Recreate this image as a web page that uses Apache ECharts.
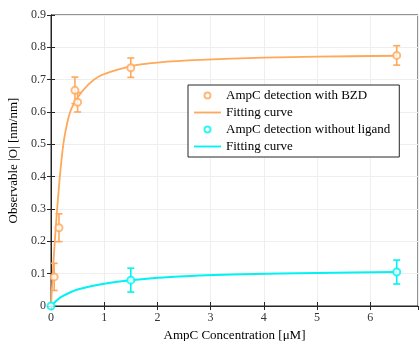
<!DOCTYPE html>
<html>
<head>
<meta charset="utf-8">
<script src="https://cdn.jsdelivr.net/npm/echarts@6/dist/echarts.min.js"></script>
<style>
  html, body { margin: 0; padding: 0; background: #fff; }
  #chart { width: 419px; height: 341px; }
</style>
</head>
<body>
<div id="chart"></div>
<script>
// measured points with error bars
const xBZD = [0.06, 0.15, 0.45, 0.5, 1.5, 6.5]
const yBZD = [0.09, 0.242, 0.667, 0.63, 0.737, 0.775]
const errBZD = [0.042, 0.043, 0.041, 0.03, 0.03, 0.03]

const xNoLig = [0, 1.5, 6.5]
const yNoLig = [0, 0.08, 0.105]
const errNoLig = [0, 0.037, 0.037]

// fitting curves
const fitBZDx = [0, 0.04, 0.08, 0.13, 0.19, 0.25, 0.36, 0.5, 0.7, 0.9, 1.24, 1.6, 2.0, 2.8, 4.0, 5.0, 6.5]
const fitBZDy = [0, 0.12, 0.22, 0.33, 0.44, 0.52, 0.6, 0.645, 0.685, 0.71, 0.73, 0.745, 0.753, 0.761, 0.768, 0.771, 0.774]
const fitNoLigx = [0, 0.1, 0.2, 0.5, 1.0, 1.5, 2.4, 3.6, 5.0, 6.5]
const fitNoLigy = [0, 0.016, 0.029, 0.051, 0.069, 0.08, 0.091, 0.098, 0.102, 0.105]

const legendNames = ['AmpC detection with BZD', 'Fitting curve', 'AmpC detection without ligand', 'Fitting curve ']

const orange = '#FFA85A'
const cyan = '#00F2F2'
const axisColor = '#262626'
const font = 'Liberation Serif'
const lineIcon = 'path://M0,0 L30,0 L30,2 L0,2 Z'

const zip = (xs, ys) => xs.map((x, i) => [x, ys[i]])
const errData = (xs, ys, es) => xs.map((x, i) => [x, ys[i] - es[i], ys[i] + es[i]]).filter((d, i) => es[i] > 0)

const errorBars = (data, color) => ({
  type: 'custom',
  data: data,
  silent: true,
  z: 3,
  renderItem: (params, api) => {
    const x = api.value(0)
    const lo = api.coord([x, api.value(1)])
    const hi = api.coord([x, api.value(2)])
    const half = 3.5
    const style = { stroke: color, lineWidth: 1.6, fill: null }
    return {
      type: 'group',
      children: [
        { type: 'line', shape: { x1: lo[0], y1: lo[1], x2: hi[0], y2: hi[1] }, style },
        { type: 'line', shape: { x1: lo[0] - half, y1: lo[1], x2: lo[0] + half, y2: lo[1] }, style },
        { type: 'line', shape: { x1: hi[0] - half, y1: hi[1], x2: hi[0] + half, y2: hi[1] }, style }
      ]
    }
  }
})

const chart = echarts.init(document.getElementById('chart'), null, { renderer: 'canvas' })

const option = {
  animation: false,
  backgroundColor: '#fff',
  textStyle: { fontFamily: font },
  grid: {
    left: 51, right: 1, top: 15, bottom: 35,
    outerBoundsMode: 'none',
    containLabel: false,
    show: true, borderColor: axisColor, borderWidth: 1
  },
  legend: {
    data: legendNames.map((n, i) => ({ name: n, icon: i % 2 === 0 ? 'emptyCircle' : lineIcon })),
    orient: 'vertical',
    left: 188,
    top: 85,
    itemWidth: 27,
    itemHeight: 6,
    itemGap: 4,
    padding: [4, 9, 4, 6],
    backgroundColor: '#fff',
    borderColor: axisColor,
    borderWidth: 1,
    borderRadius: 0,
    selectedMode: false,
    textStyle: { fontFamily: font, fontSize: 13, color: '#000' }
  },
  xAxis: [{
    type: 'value',
    min: 0,
    max: 6.9,
    interval: 1,
    name: 'AmpC Concentration [μM]',
    nameLocation: 'middle',
    nameGap: 21,
    nameTextStyle: { fontFamily: font, fontSize: 13, color: '#000' },
    axisLine: { show: true, onZero: false, lineStyle: { color: axisColor } },
    axisTick: { show: true, inside: true, length: 4, lineStyle: { color: axisColor } },
    axisLabel: { margin: 6, fontFamily: font, fontSize: 12, color: '#333', showMaxLabel: false },
    splitLine: { show: true, lineStyle: { color: '#eeeeee' } }
  }, {
    type: 'value',
    position: 'top',
    min: 0,
    max: 6.9,
    interval: 1,
    axisLine: { show: true, lineStyle: { color: axisColor } },
    axisTick: { show: true, inside: true, length: 4, lineStyle: { color: axisColor } },
    axisLabel: { show: false },
    splitLine: { show: false }
  }],
  yAxis: [{
    type: 'value',
    min: 0,
    max: 0.9,
    interval: 0.1,
    name: 'Observable |O| [nm/nm]',
    nameLocation: 'middle',
    nameGap: 25,
    nameTextStyle: { fontFamily: font, fontSize: 13, color: '#000' },
    axisLine: { show: true, onZero: false, lineStyle: { color: axisColor } },
    axisTick: { show: true, inside: true, length: 4, lineStyle: { color: axisColor } },
    axisLabel: { margin: 5, fontFamily: font, fontSize: 12, color: '#333' },
    splitLine: { show: true, lineStyle: { color: '#eeeeee' } }
  }, {
    type: 'value',
    position: 'right',
    min: 0,
    max: 0.9,
    interval: 0.1,
    axisLine: { show: true, lineStyle: { color: axisColor } },
    axisTick: { show: true, inside: true, length: 4, lineStyle: { color: axisColor } },
    axisLabel: { show: false },
    splitLine: { show: false }
  }],
  series: [
    {
      name: legendNames[0],
      type: 'scatter',
      data: zip(xBZD, yBZD),
      symbol: 'emptyCircle',
      symbolSize: 7,
      itemStyle: { color: orange, borderColor: orange, borderWidth: 1.6 },
      z: 4
    },
    {
      name: legendNames[1],
      type: 'line',
      data: zip(fitBZDx, fitBZDy),
      smooth: 0.3,
      symbol: 'none',
      lineStyle: { color: orange, width: 1.8 },
      itemStyle: { color: orange },
      z: 2
    },
    {
      name: legendNames[2],
      type: 'scatter',
      data: zip(xNoLig, yNoLig),
      symbol: 'emptyCircle',
      symbolSize: 7,
      itemStyle: { color: cyan, borderColor: cyan, borderWidth: 1.8 },
      z: 4
    },
    {
      name: legendNames[3],
      type: 'line',
      data: zip(fitNoLigx, fitNoLigy),
      smooth: 0.3,
      symbol: 'none',
      lineStyle: { color: cyan, width: 2 },
      itemStyle: { color: cyan },
      z: 2
    },
    errorBars(errData(xBZD, yBZD, errBZD), orange),
    errorBars(errData(xNoLig, yNoLig, errNoLig), cyan)
  ]
}

chart.setOption(option)
</script>
</body>
</html>
